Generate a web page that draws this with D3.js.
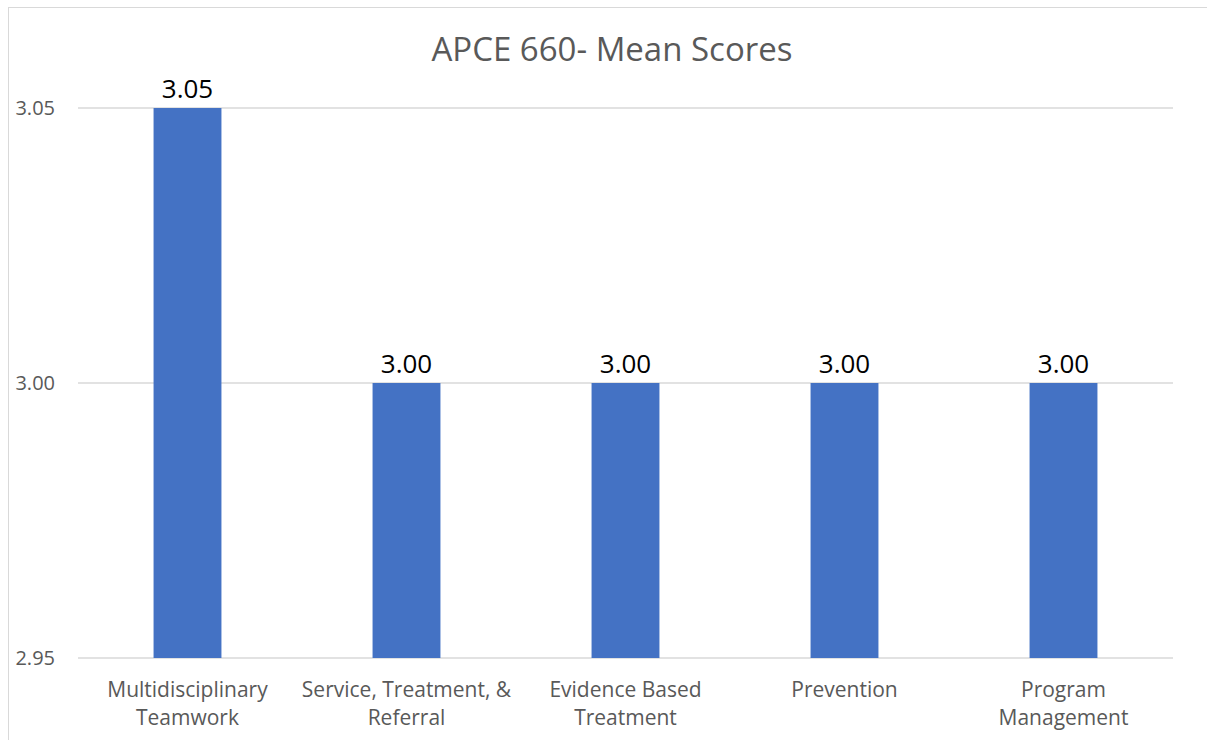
<!DOCTYPE html>
<html>
<head>
<meta charset="utf-8">
<script src="https://cdn.jsdelivr.net/npm/d3@7"></script>
<style>
  body { margin: 0; background: #fff; }
  svg { font-family: "Open Sans", "Liberation Sans", sans-serif; }
</style>
</head>
<body>
<svg id="chart" width="1207" height="740"></svg>
<script>
const categories = [
  ["Multidisciplinary", "Teamwork"],
  ["Service, Treatment, &", "Referral"],
  ["Evidence Based", "Treatment"],
  ["Prevention"],
  ["Program", "Management"]
];
const values = [3.05, 3.00, 3.00, 3.00, 3.00];
const yTicks = [2.95, 3.00, 3.05];
const title = "APCE 660- Mean Scores";

const svg = d3.select("#chart");
const margin = {top: 108, right: 34, bottom: 82, left: 78};
const width = 1207 - margin.left - margin.right,
      height = 740 - margin.top - margin.bottom;

// chart frame
svg.append("rect")
  .attr("x", 8.5).attr("y", 7.5)
  .attr("width", 1210).attr("height", 740)
  .attr("fill", "none").attr("stroke", "#d9d9d9").attr("stroke-width", 1);

svg.append("text")
  .attr("x", 612).attr("y", 61)
  .attr("text-anchor", "middle")
  .attr("font-size", 33)
  .attr("fill", "#595959")
  .text(title);

const g = svg.append("g")
  .attr("transform", "translate(" + margin.left + "," + margin.top + ")");

const keys = categories.map((c) => c.join(" "));

const x = d3.scaleBand().domain(keys).range([0, width]).paddingInner(0.69).paddingOuter(0.345);
const y = d3.scaleLinear().domain([2.95, 3.05]).range([height, 0]);

// gridlines
g.selectAll(".grid")
  .data(yTicks)
  .enter()
  .append("line")
  .attr("x1", 0).attr("x2", width)
  .attr("y1", (d) => y(d)).attr("y2", (d) => y(d))
  .attr("stroke", "#d9d9d9").attr("stroke-width", 1.5);

// y labels
g.selectAll(".ylab")
  .data(yTicks)
  .enter()
  .append("text")
  .attr("x", -23)
  .attr("y", (d) => y(d) + 7)
  .attr("text-anchor", "end")
  .attr("font-size", 20)
  .attr("fill", "#595959")
  .text((d) => d.toFixed(2));

// bars
g.selectAll(".bar")
  .data(values)
  .enter()
  .append("rect")
  .attr("x", (d, i) => x(keys[i]))
  .attr("y", (d) => y(d))
  .attr("width", x.bandwidth())
  .attr("height", (d) => height - y(d))
  .attr("fill", "#4472c4");

// data labels
g.selectAll(".val")
  .data(values)
  .enter()
  .append("text")
  .attr("x", (d, i) => x(keys[i]) + x.bandwidth() / 2)
  .attr("y", (d) => y(d) - 10)
  .attr("text-anchor", "middle")
  .attr("font-size", 26)
  .attr("fill", "#000")
  .text((d) => d.toFixed(2));

// category labels
categories.forEach((lines, i) => {
  const t = g.append("text")
    .attr("x", x(keys[i]) + x.bandwidth() / 2)
    .attr("y", height + 39)
    .attr("text-anchor", "middle")
    .attr("font-size", 21)
    .attr("fill", "#595959");
  lines.forEach((l, j) => {
    t.append("tspan")
      .attr("x", x(keys[i]) + x.bandwidth() / 2)
      .attr("dy", j === 0 ? 0 : 28)
      .text(l);
  });
});
</script>
</body>
</html>
